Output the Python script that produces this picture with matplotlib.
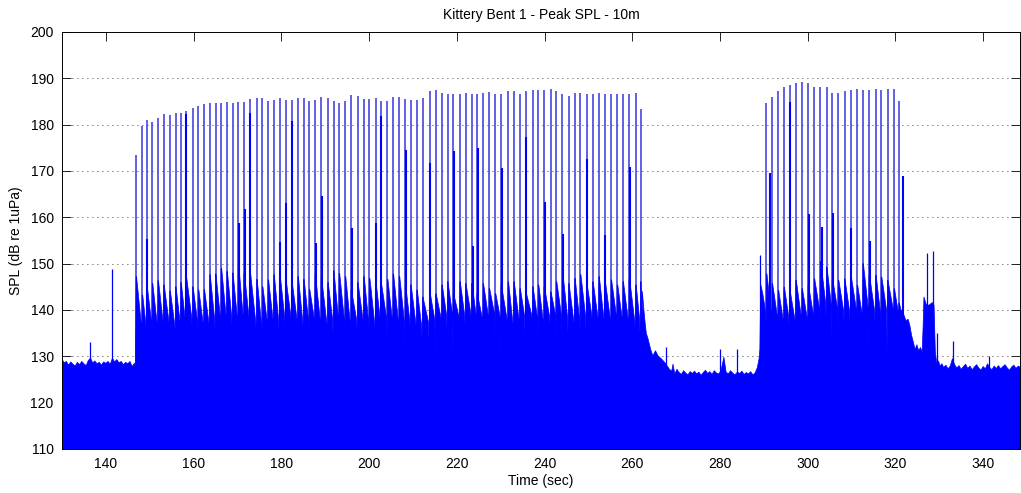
import matplotlib
matplotlib.use("Agg")
import matplotlib.pyplot as plt
import numpy as np

plt.rcParams["font.family"] = ["Liberation Sans", "DejaVu Sans"]

# quiet stretch before the first pulse train
pre_t = [130.0, 130.5, 131.0, 131.5, 132.0, 132.5, 133.0, 133.5, 134.0, 134.5,
         135.0, 135.5, 136.0, 136.5, 137.0, 137.5, 138.0, 138.5, 139.0, 139.5,
         140.0, 140.5, 141.0, 141.5, 142.0, 142.5, 143.0, 143.5, 144.0, 144.5,
         145.0, 145.5, 146.0, 146.5, 146.7]
pre_db = [129.4, 128.6, 128.9, 128.1, 128.8, 128.3, 127.9, 128.7, 128.2, 128.9,
          128.4, 128.0, 129.1, 129.6, 128.6, 129.0, 128.4, 128.7, 128.1, 128.8,
          128.5, 128.9, 128.3, 129.6, 128.8, 129.3, 128.6, 128.9, 128.2, 128.7,
          128.4, 128.9, 127.8, 128.5, 128.0]

# first pulse train (pile strikes)
g1_t = [146.9, 148.3, 149.3, 150.6, 151.9, 153.2, 154.6, 155.9, 157.1, 158.3,
        159.8, 161.1, 162.4, 163.7, 165.0, 166.3, 167.6, 168.9, 170.2, 171.5,
        172.9, 174.4, 175.7, 177.0, 178.3, 179.6, 181.0, 182.4, 183.8, 185.1,
        186.4, 187.7, 189.1, 190.6, 191.9, 193.2, 194.6, 195.9, 197.4, 198.8,
        200.1, 201.5, 202.8, 204.2, 205.5, 206.9, 208.3, 209.5, 210.9, 212.2,
        213.8, 215.2, 216.6, 217.9, 219.2, 220.7, 222.0, 223.4, 224.6, 226.0,
        227.4, 228.8, 230.1, 231.7, 233.0, 234.4, 235.7, 237.3, 238.6, 239.9,
        241.4, 242.7, 244.1, 245.5, 246.9, 248.2, 249.6, 251.0, 252.4, 253.8,
        255.2, 256.6, 257.9, 259.3, 260.8, 261.9]
g1_peak = [173.5, 179.7, 180.9, 180.5, 181.5, 182.2, 182.0, 182.5, 182.6, 183.0,
           183.5, 184.0, 184.4, 184.6, 184.6, 184.7, 184.9, 184.6, 184.9, 184.9,
           185.5, 185.7, 185.7, 185.2, 185.4, 185.7, 185.4, 185.3, 185.7, 185.7,
           185.2, 185.4, 185.9, 185.7, 185.2, 184.6, 185.2, 186.4, 186.2, 185.5,
           185.5, 185.7, 185.2, 185.2, 185.9, 185.9, 185.5, 185.3, 185.3, 185.7,
           187.2, 187.4, 186.9, 186.7, 186.7, 186.7, 186.8, 186.7, 186.7, 186.9,
           187.0, 186.7, 186.6, 187.2, 187.2, 186.6, 187.2, 187.4, 187.4, 187.4,
           187.7, 187.2, 186.7, 186.1, 186.9, 186.9, 186.7, 186.7, 186.9, 186.7,
           186.7, 186.7, 186.7, 186.7, 186.9, 183.3]
g1_tooth = [147.2, 143.2, 145.4, 145.7, 146.3, 145.4, 144.1, 145.0, 145.9, 147.2,
            145.0, 144.3, 144.4, 147.6, 147.8, 149.0, 148.3, 148.0, 149.8, 147.9,
            147.9, 146.6, 145.0, 146.5, 147.6, 147.9, 146.5, 145.9, 147.2, 146.6,
            144.4, 147.6, 146.8, 145.9, 148.5, 147.9, 147.2, 144.3, 145.9, 147.2,
            146.8, 146.1, 145.4, 146.6, 147.8, 147.2, 145.0, 145.4, 144.3, 142.8,
            143.9, 143.5, 145.4, 146.1, 143.5, 146.1, 145.7, 145.7, 143.5, 145.7,
            144.6, 143.5, 145.4, 146.1, 146.1, 144.6, 143.9, 145.0, 145.4, 145.0,
            143.9, 146.1, 147.9, 145.7, 146.8, 147.6, 145.7, 146.1, 147.2, 146.1,
            146.5, 145.4, 146.1, 146.8, 145.4, 146.1]
g1_base = [136.8, 137.2, 137.5, 137.0, 137.8, 137.4, 136.9, 137.6, 137.9, 138.2,
           137.5, 137.0, 137.3, 138.0, 138.4, 138.8, 138.5, 138.1, 138.6, 137.9,
           137.2, 136.8, 137.5, 138.0, 137.7, 138.3, 138.6, 137.9, 137.4, 137.8,
           138.2, 137.6, 137.1, 137.9, 138.4, 137.7, 137.3, 137.8, 138.1, 137.5,
           137.0, 137.6, 138.2, 138.0, 137.4, 137.1, 137.7, 136.9, 136.5, 137.2,
           137.9, 138.4, 138.8, 139.1, 138.6, 138.9, 139.3, 139.0, 138.4, 138.7,
           139.2, 138.5, 137.8, 137.2, 137.9, 138.5, 138.9, 138.3, 137.7, 138.4,
           139.0, 138.6, 138.1, 137.5, 137.9, 138.4, 138.8, 138.2, 137.6, 138.1,
           138.7, 138.3, 137.8, 137.4, 137.9, 138.3]
g1_dip = [136.5, 134.5, 135.2, 134.1, 135.0, 134.6, 135.3, 134.8, 135.6, 135.1,
          132.7, 134.9, 135.4, 132.7, 135.0, 134.4, 134.1, 135.2, 134.7, 135.5,
          134.0, 130.5, 135.1, 134.9, 135.4, 133.9, 134.6, 135.0, 133.4, 134.8,
          135.3, 134.2, 135.0, 132.7, 133.4, 135.9, 134.5, 131.6, 133.0, 134.9,
          135.9, 135.6, 130.9, 132.3, 134.9, 135.6, 128.7, 133.4, 134.1, 131.9,
          130.5, 130.1, 134.9, 133.8, 130.9, 132.7, 135.9, 136.7, 130.5, 129.8,
          135.2, 134.1, 129.4, 134.5, 135.2, 136.7, 130.5, 135.9, 133.4, 130.9,
          135.2, 133.8, 131.6, 131.2, 135.6, 134.5, 132.3, 134.5, 132.3, 131.6,
          131.2, 134.9, 133.4, 133.4, 134.0, 133.0]

tail1_t = [262.3, 262.8, 263.2, 263.6, 264.2, 264.7, 265.3, 265.9, 266.6, 267.4, 268.5]
tail1_db = [144.0, 138.5, 135.0, 133.8, 131.5, 130.1, 131.2, 130.1, 129.5, 128.7, 127.2]

floor2_t = [269.0, 269.3, 269.7, 270.2, 270.7, 271.2, 271.7, 272.2, 272.7, 273.2,
            273.7, 274.2, 274.7, 275.2, 275.7, 276.2, 276.7, 277.2, 277.7, 278.2,
            278.7, 279.2, 279.7, 280.2, 280.9, 281.4, 281.9, 282.4, 282.9, 283.4,
            284.0, 284.5, 285.0, 285.5, 286.0, 286.5, 287.0, 287.5, 288.0, 288.5,
            288.9, 289.1, 289.3, 289.7, 290.2]
floor2_db = [126.8, 128.3, 126.2, 127.2, 126.5, 126.1, 126.9, 126.4, 126.0, 126.7,
             126.3, 126.8, 126.2, 126.6, 125.9, 126.5, 127.0, 126.3, 126.7, 126.1,
             126.9, 126.4, 126.2, 126.8, 129.8, 126.6, 126.2, 126.9, 126.4, 126.0,
             126.6, 126.3, 126.8, 126.1, 126.5, 126.2, 126.7, 126.0, 126.4, 127.5,
             129.4, 131.5, 145.5, 143.8, 141.0]

# second pulse train
g2_t = [290.6, 291.9, 293.3, 294.6, 295.9, 297.3, 298.7, 300.1, 301.5, 302.9,
        304.3, 305.6, 307.0, 308.4, 309.8, 311.3, 312.6, 314.0, 315.5, 316.8,
        318.2, 319.7, 320.8]
g2_peak = [184.6, 186.0, 187.2, 188.1, 188.6, 189.0, 189.2, 189.0, 188.2, 188.1,
           188.1, 186.9, 186.9, 187.2, 187.5, 187.7, 187.5, 187.5, 187.7, 187.5,
           187.7, 187.7, 185.2]
g2_tooth = [147.8, 145.7, 144.2, 144.9, 144.2, 146.4, 144.6, 145.3, 146.7, 150.5,
            149.3, 146.7, 146.4, 146.7, 147.5, 145.3, 150.0, 147.5, 147.5, 147.1,
            146.4, 144.6, 141.5]
g2_base = [139.5, 138.6, 138.0, 138.4, 137.9, 138.8, 138.2, 139.0, 140.2, 141.5,
           141.0, 140.3, 139.8, 139.5, 140.1, 139.2, 140.5, 139.6, 139.4, 139.9,
           140.2, 139.8, 139.5]
g2_dip = [137.5, 137.7, 134.0, 133.3, 131.5, 131.9, 133.7, 131.5, 134.8, 137.3,
          136.5, 133.7, 135.5, 136.2, 133.3, 135.5, 134.8, 130.4, 132.2, 133.3,
          130.1, 136.2, 134.0]

tail2_t = [321.4, 321.9, 322.4, 322.9, 323.3, 323.7, 324.1, 324.5, 324.9, 325.3,
           325.7, 326.1, 326.3, 326.5, 327.0, 327.6, 328.0, 328.4, 328.8, 329.1,
           329.4, 329.8, 330.2]
tail2_db = [139.9, 139.0, 137.7, 138.0, 136.6, 134.5, 133.0, 131.5, 132.5, 131.2,
            131.9, 131.0, 136.0, 142.8, 141.3, 141.0, 141.3, 141.6, 141.0, 131.0,
            128.6, 129.0, 127.9]

floor3_t = [330.6, 331.0, 331.5, 332.0, 332.5, 333.0, 333.5, 334.0, 334.5, 335.0,
            335.5, 336.0, 336.5, 337.0, 337.5, 338.0, 338.5, 339.0, 339.5, 340.0,
            340.5, 341.0, 341.5, 342.0, 342.5, 343.0, 343.5, 344.0, 344.5, 345.0,
            345.5, 346.0, 346.5, 347.0, 347.5, 348.0, 348.5]
floor3_db = [128.4, 127.6, 128.1, 127.3, 127.9, 129.5, 128.2, 127.5, 128.0, 127.2,
             127.8, 128.3, 127.4, 127.9, 127.1, 127.7, 128.2, 127.5, 127.0, 127.8,
             127.3, 128.4, 127.6, 127.1, 127.9, 127.4, 128.0, 127.3, 127.8, 128.2,
             127.5, 127.0, 127.7, 128.1, 127.4, 127.9, 127.6]

# secondary peaks next to strikes (darker, thicker lines)
sec_t = [149.4, 158.3, 170.3, 171.8, 172.9, 179.8, 181.1, 182.4, 187.9, 189.3,
         196.1, 201.5, 202.8, 208.4, 213.8, 219.4, 223.6, 224.9, 230.3, 235.8,
         240.0, 244.3, 249.7, 253.9, 259.5, 291.4, 296.0, 300.2, 303.3, 305.7,
         309.9, 314.1, 321.8]
sec_db = [155.3, 182.3, 158.8, 161.8, 182.6, 154.7, 163.0, 180.8, 154.5, 164.5,
          157.8, 158.8, 181.9, 174.5, 171.7, 174.4, 153.8, 174.9, 170.6, 177.4,
          163.4, 156.4, 172.6, 156.1, 170.9, 169.6, 185.0, 160.7, 158.0, 161.0,
          157.6, 155.0, 168.9]

# isolated short spikes
blip_t = [136.3, 141.4, 267.8, 280.0, 283.8, 289.2, 327.3, 328.5, 329.5, 333.1, 341.3]
blip_db = [133.0, 148.8, 132.1, 131.6, 131.6, 151.9, 152.2, 152.8, 135.1, 133.4, 130.1]


def train_outline(ts, tooth, base, dip, t_end):
    # sawtooth under each strike: dip, jump to tooth, decay to base
    xs, ys = [], []
    nxt = list(ts[1:]) + [t_end]
    for t0, t1, top, low, gap in zip(ts, nxt, tooth, base, dip):
        xs += [t0 - 0.08, t0 - 0.01, t0 + 0.1, t1 - 0.2]
        ys += [gap, top, top, low]
    return xs, ys


x1, y1 = train_outline(g1_t, g1_tooth, g1_base, g1_dip, 262.5)
x2, y2 = train_outline(g2_t, g2_tooth, g2_base, g2_dip, 321.6)

t = np.concatenate([pre_t, x1, tail1_t, floor2_t, x2, tail2_t, floor3_t])
db = np.concatenate([pre_db, y1, tail1_db, floor2_db, y2, tail2_db, floor3_db])

fig = plt.figure(figsize=(10.21, 4.93), dpi=100)
ax = fig.add_axes([62 / 1021, 44 / 493, 958 / 1021, 417 / 493])

blue = (0, 0, 1)
# spikes sit under the filled body so only their upper part shows
ax.vlines(g1_t + g2_t, 125, g1_peak + g2_peak, color=(0.3, 0.3, 0.88),
          lw=1.25, zorder=1.5)
ax.vlines(sec_t, 125, sec_db, color=blue, lw=1.5, zorder=1.6)
ax.vlines(blip_t, 125, blip_db, color=blue, lw=0.9, zorder=1.6)
ax.fill_between(t, 0, db, color=blue, lw=0, zorder=2)
ax.plot(t, db, color=blue, lw=0.5, zorder=2)

ax.set_xlim(130, 348.4)
ax.set_ylim(110, 200)
ax.set_xticks(np.arange(140, 341, 20))
ax.set_yticks(np.arange(110, 201, 10))
ax.set_axisbelow(True)
ax.yaxis.grid(True, color="black", lw=0.6, linestyle=(0, (1, 5)))
ax.tick_params(direction="in", length=6.5, width=0.6, top=True, right=True,
               labelsize=10, pad=6)
for sp in ax.spines.values():
    sp.set_linewidth(0.7)

ax.set_title("Kittery Bent 1 - Peak SPL - 10m", fontsize=10, pad=9)
ax.set_xlabel("Time (sec)", fontsize=10, labelpad=2)
ax.set_ylabel("SPL (dB re 1uPa)", fontsize=10, labelpad=5)

fig.savefig("out.png", dpi=100)
